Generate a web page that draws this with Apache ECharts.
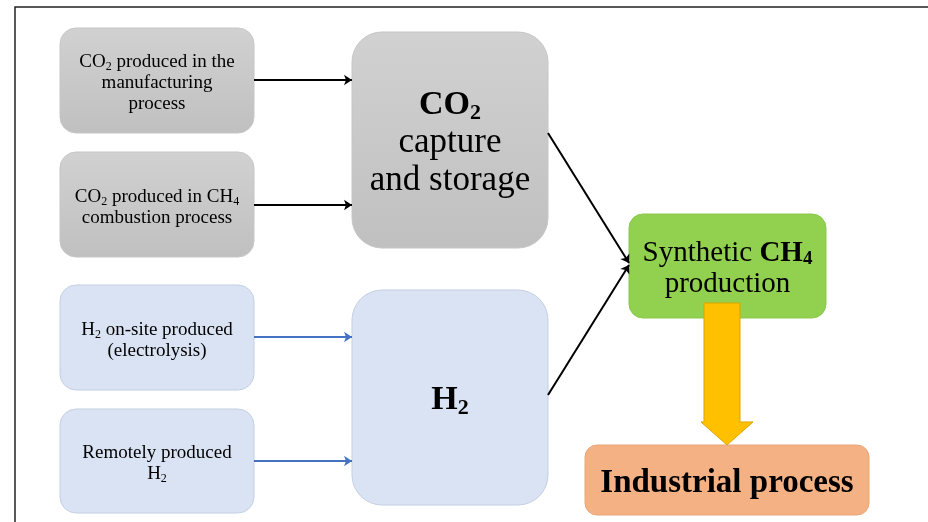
<!DOCTYPE html>
<html>
<head>
<meta charset="utf-8">
<title>CO2 + H2 to synthetic CH4</title>
<script src="https://cdn.jsdelivr.net/npm/echarts@6/dist/echarts.min.js"></script>
<style>
    html, body { margin: 0; padding: 0; background: #fff; }
    #chart { width: 928px; height: 522px; }
</style>
</head>
<body>
<div id="chart"></div>
<script>
    // 节点文字 (rich text, {s|..} = subscript)
    var nodeLabels = [
        '{n|CO}{s|2}{n| produced in the}\n{n|manufacturing}\n{n|process}',
        '{n|CO}{s|2}{n| produced in CH}{s|4}\n{n|combustion process}',
        '{n|H}{s|2}{n| on-site produced}\n{n|(electrolysis)}',
        '{n|Remotely produced}\n{n|H}{s|2}',
        '{B|CO}{BS|2}\n{N|capture}\n{N|and storage}',
        '{B|H}{BS|2}',
        '{M|Synthetic }{MB|CH}{MS|4}\n{M|production}',
        '{I|Industrial process}'
    ];
    // 连线 (from node -> to node)
    var linkFrom = [0, 1, 2, 3, 4, 5];
    var linkTo   = [4, 4, 5, 5, 6, 6];
    var linkKind = ['co2', 'co2', 'h2', 'h2', 'out', 'out'];

    // layout only: box corners [x0, y0, x1, y1] in page pixels
    var boxes = [
        [60, 28, 254, 133],
        [60, 152, 254, 257],
        [60, 285, 254, 390],
        [60, 409, 254, 513],
        [352, 32, 548, 248],
        [352, 290, 548, 505],
        [629, 214, 826, 318],
        [585, 445, 869, 515]
    ];
    var boxStyle = [
        'gray', 'gray', 'blue', 'blue', 'gray', 'blue', 'green', 'orange'
    ];
    var radius = [16, 16, 16, 16, 30, 30, 14, 12];
    // arrow end points (layout)
    var linkPts = [
        [[254, 80], [352, 80]],
        [[254, 205], [352, 205]],
        [[254, 337], [352, 337]],
        [[254, 461], [352, 461]],
        [[548, 133], [629, 263]],
        [[548, 395], [629, 265]]
    ];

    var fills = {
        gray: new echarts.graphic.LinearGradient(0, 0, 0, 1, [
            { offset: 0, color: '#d1d1d1' }, { offset: 1, color: '#c0c0c0' }
        ]),
        blue: '#dae3f3',
        green: '#92d050',
        orange: '#f4b183'
    };
    var strokes = { gray: '#c6c6c6', blue: '#c3cfe3', green: '#8ac84a', orange: '#e9a677' };
    var lineColors = { co2: '#000', h2: '#4472c4', out: '#000' };

    var serif = '"Liberation Serif", "DejaVu Serif", serif';
    var rich = {
        n: { fontFamily: serif, fontSize: 19, lineHeight: 21, color: '#1a1a1a', verticalAlign: 'middle' },
        s: { fontFamily: serif, fontSize: 12, lineHeight: 12, color: '#1a1a1a', verticalAlign: 'bottom' },
        N: { fontFamily: serif, fontSize: 35, lineHeight: 38, color: '#111', verticalAlign: 'middle' },
        B: { fontFamily: serif, fontSize: 34, lineHeight: 38, color: '#111', fontWeight: 'bold', verticalAlign: 'middle' },
        BS: { fontFamily: serif, fontSize: 22, lineHeight: 22, color: '#111', fontWeight: 'bold', verticalAlign: 'bottom' },
        I: { fontFamily: serif, fontSize: 33, lineHeight: 38, color: '#111', fontWeight: 'bold', verticalAlign: 'middle' },
        M: { fontFamily: serif, fontSize: 29, lineHeight: 31, color: '#111', verticalAlign: 'middle' },
        MB: { fontFamily: serif, fontSize: 29, lineHeight: 31, color: '#111', fontWeight: 'bold', verticalAlign: 'middle' },
        MS: { fontFamily: serif, fontSize: 19, lineHeight: 19, color: '#111', fontWeight: 'bold', verticalAlign: 'bottom' }
    };

    var chart = echarts.init(document.getElementById('chart'));

    // 绘图
    function renderBox(params, api) {
        var i = api.value(0);
        var b = boxes[i];
        var p0 = api.coord([b[0], b[1]]);
        var p1 = api.coord([b[2], b[3]]);
        var st = boxStyle[i];
        return {
            type: 'group',
            children: [{
                type: 'rect',
                shape: { x: p0[0], y: p0[1], width: p1[0] - p0[0], height: p1[1] - p0[1], r: radius[i] },
                style: { fill: fills[st], stroke: strokes[st], lineWidth: 1 }
            }, {
                type: 'text',
                style: {
                    text: nodeLabels[i],
                    rich: rich,
                    x: (p0[0] + p1[0]) / 2,
                    y: (p0[1] + p1[1]) / 2 + 3,
                    align: 'center',
                    verticalAlign: 'middle'
                }
            }]
        };
    }

    // yellow block arrow from CH4 box down to industrial process
    function renderBlockArrow(params, api) {
        var top = api.coord([704, 303]);
        var sh = api.coord([740, 422]);
        var head0 = api.coord([701, 422]);
        var head1 = api.coord([753, 422]);
        var tip = api.coord([727, 445]);
        return {
            type: 'polygon',
            shape: {
                points: [
                    [top[0], top[1]], [sh[0], top[1]], [sh[0], sh[1]],
                    [head1[0], head1[1]], [tip[0], tip[1]], [head0[0], head0[1]],
                    [top[0], head0[1]]
                ]
            },
            style: { fill: '#ffc000', stroke: '#d9a500', lineWidth: 1 }
        };
    }

    var linesData = linkFrom.map(function (f, k) {
        return {
            coords: linkPts[k],
            lineStyle: { color: lineColors[linkKind[k]], width: linkKind[k] === 'h2' ? 1.8 : 2, opacity: 1 }
        };
    });

    var option = {
        animation: false,
        grid: { left: 0, right: 0, top: 0, bottom: 0 },
        xAxis: { type: 'value', min: 0, max: 928, show: false },
        yAxis: { type: 'value', min: 0, max: 522, inverse: true, show: false },
        graphic: [{
            type: 'polyline',
            shape: { points: [[15, 522], [15, 7], [928, 7]] },
            style: { stroke: '#222', lineWidth: 1.5, fill: null },
            z: 10
        }],
        series: [{
            type: 'custom',
            renderItem: renderBox,
            data: nodeLabels.map(function (t, i) { return [i]; }),
            z: 2
        }, {
            type: 'custom',
            renderItem: renderBlockArrow,
            data: [[0]],
            z: 3
        }, {
            type: 'lines',
            coordinateSystem: 'cartesian2d',
            symbol: ['none', 'arrow'],
            symbolSize: 8,
            lineStyle: { opacity: 1 },
            data: linesData,
            z: 4
        }]
    };
    chart.setOption(option);
</script>
</body>
</html>
